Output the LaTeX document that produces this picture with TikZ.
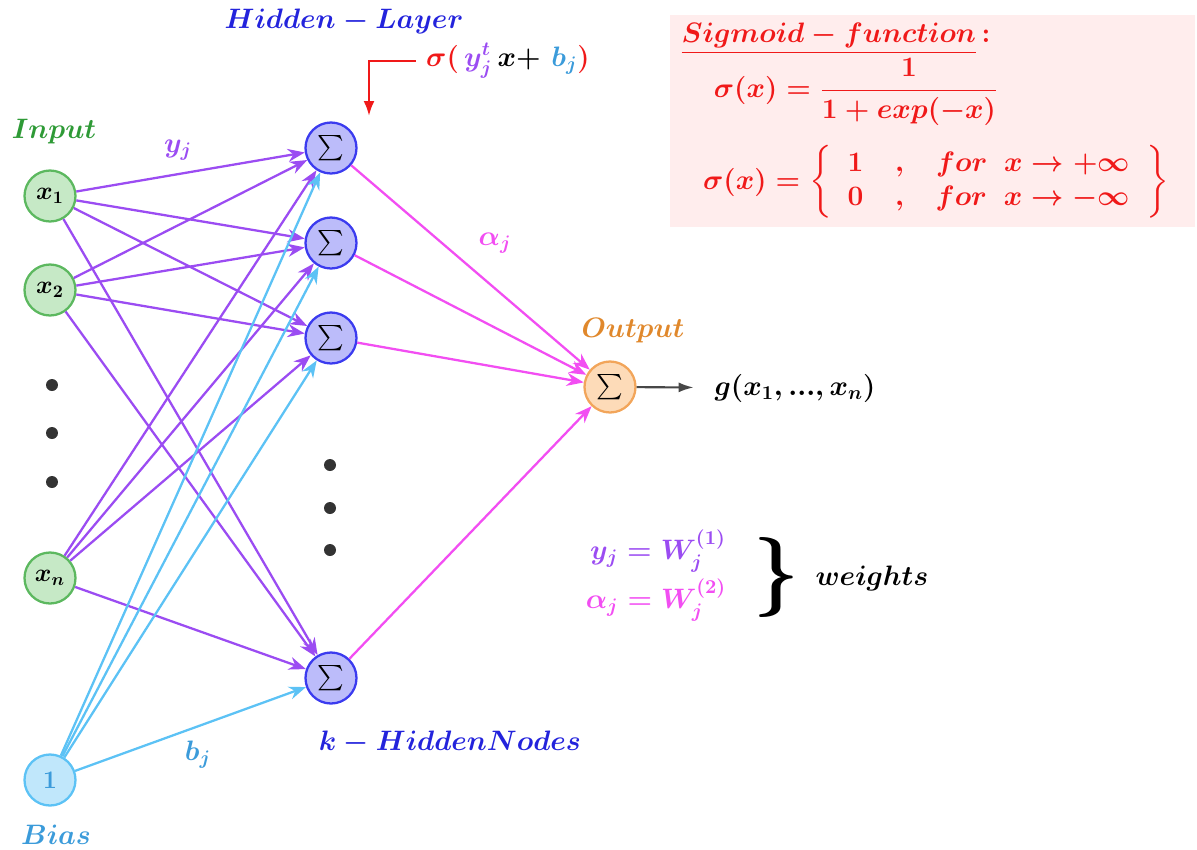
\RequirePackage{fix-cm}
\documentclass[tikz,border=0pt]{standalone}
\usepackage{amsmath}
\usepackage{bm}
\usepackage{graphicx}
\usepackage{xcolor}
\usetikzlibrary{arrows.meta,positioning,calc}
\definecolor{InDraw}{HTML}{5CB85F}
\definecolor{InFill}{HTML}{C6E9C6}
\definecolor{InText}{HTML}{2E9A36}
\definecolor{HidDraw}{HTML}{3B3BEF}
\definecolor{HidFill}{HTML}{BCBCFA}
\definecolor{HidText}{HTML}{2323DC}
\definecolor{OutDraw}{HTML}{F2A55A}
\definecolor{OutFill}{HTML}{FDDBB8}
\definecolor{OutText}{HTML}{E0882C}
\definecolor{BiasDraw}{HTML}{5CC2F5}
\definecolor{BiasFill}{HTML}{C0E7FB}
\definecolor{BiasText}{HTML}{3B9BDA}
\definecolor{Violet}{HTML}{9B4CF2}
\definecolor{Pinkish}{HTML}{F24EF2}
\definecolor{SigRed}{HTML}{F01919}
\definecolor{PinkBox}{HTML}{FFEDED}
\definecolor{Dots}{HTML}{333333}

\begin{document}
\begin{tikzpicture}[
    x=0.02cm, y=-0.02cm,
    font=\boldmath\fontsize{16}{19}\selectfont,
    inner sep=1.5pt,
    neuron/.style={
        circle,
        line width=1.3pt,
        minimum size=1.02cm,
        inner sep=0pt,
        font=\boldmath\Large
    },
    innode/.style={neuron, draw=InDraw, fill=InFill},
    hidnode/.style={neuron, draw=HidDraw, fill=HidFill},
    outnode/.style={neuron, draw=OutDraw, fill=OutFill},
    biasnode/.style={neuron, draw=BiasDraw, fill=BiasFill, text=BiasText},
    warrow/.style={
        -{Stealth[length=3.4mm,width=2.6mm]},
        line width=1.3pt,
        draw=Violet
    },
    barrow/.style={warrow, draw=BiasDraw},
    aarrow/.style={warrow, draw=Pinkish},
    dot/.style={circle, fill=Dots, inner sep=0pt, minimum size=0.24cm}
]

% Canvas
\useasboundingbox (0,0) rectangle (1197,849);

% Sigmoid box
\fill[PinkBox] (670,15) rectangle (1195,227);
\node[text=SigRed] (sigtitle) at (836,39)
{\underline{$Sigmoid-function$}$\,:$};
\node[text=SigRed, inner sep=0pt] (sigdef) at (856,92)
{$\sigma(x)=\dfrac{1}{1+exp(-x)}$};
\node[text=SigRed, inner sep=0pt] (siglim) at (936,182)
{$\arraycolsep=9pt\sigma(x)=\left\{\begin{array}{ccc}
1 & , & for\ \ x\rightarrow+\infty\\
0 & , & for\ \ x\rightarrow-\infty
\end{array}\right\}$};

% Input layer
\node[innode] (x1) at (50,196) {$x_1$};
\node[innode] (x2) at (50,290) {$x_2$};
\node[innode] (xn) at (50,578) {$x_n$};
\node[biasnode] (b) at (50,780) {$1$};
\node[dot] (id1) at (52,385) {};
\node[dot] (id2) at (52,433) {};
\node[dot] (id3) at (52,482) {};

% Hidden layer
\node[hidnode] (h1) at (331,148) {$\sum$};
\node[hidnode] (h2) at (331,243) {$\sum$};
\node[hidnode] (h3) at (331,338) {$\sum$};
\node[hidnode] (hk) at (331,678) {$\sum$};
\node[dot] (hd1) at (330,465) {};
\node[dot] (hd2) at (330,508) {};
\node[dot] (hd3) at (330,550) {};

% Output
\node[outnode] (out) at (610,387) {$\sum$};
\node (gout) at (795,388) {$g(x_1,...,x_n)$};
\draw[-{Latex[length=3mm,width=2mm]}, line width=1.2pt, draw=Dots!90, shorten >=3.6mm] (out) -- (gout);

% Connections
\foreach \i in {x1,x2,xn}
  \foreach \j in {h1,h2,h3,hk}
    \draw[warrow] (\i) -- (\j);
\foreach \j in {h1,h2,h3,hk}
  \draw[barrow] (b) -- (\j);
\foreach \j in {h1,h2,h3,hk}
  \draw[aarrow] (\j) -- (out);

% Labels
\node[text=HidText, inner sep=0pt] (hidlabel) at (344,21) {$Hidden-Layer$};
\node[inner sep=0pt] (sigma) at (508,61)
{$\textcolor{SigRed}{\sigma(}\,\textcolor{Violet}{y_j^t}\,x{+}\,\,\textcolor{BiasText}{b_j}\textcolor{SigRed}{)}$};
\coordinate (redtip) at (369,116);
\draw[-{Latex[length=3mm,width=2.2mm]}, line width=1.4pt, draw=SigRed, shorten <=2mm] (sigma.west) -| (redtip);
\node[text=InText] (inlabel) at (54,132) {$Input$};
\node[text=Violet] (ylabel) at (178,150) {$y_j$};
\node[text=Pinkish] (alabel) at (495,243) {$\alpha_j$};
\node[text=OutText] (outlabel) at (633,331) {$Output$};
\node[text=HidText] (klabel) at (450,743) {$k-HiddenNodes$};
\node[text=BiasText] (blabel) at (198,755) {$b_j$};
\node[text=BiasText] (biaslabel) at (56,835) {$Bias$};

% Weights
\node[text=Violet] (wy) at (658,551) {$y_j=W_j^{(1)}$};
\node[text=Pinkish] (wa) at (656,600) {$\alpha_j=W_j^{(2)}$};
\node (brace) at (776,577) {\resizebox*{!}{1.6cm}{$\}$}};
\node (wlabel) at (872,578) {$weights$};

\end{tikzpicture}
\end{document}
